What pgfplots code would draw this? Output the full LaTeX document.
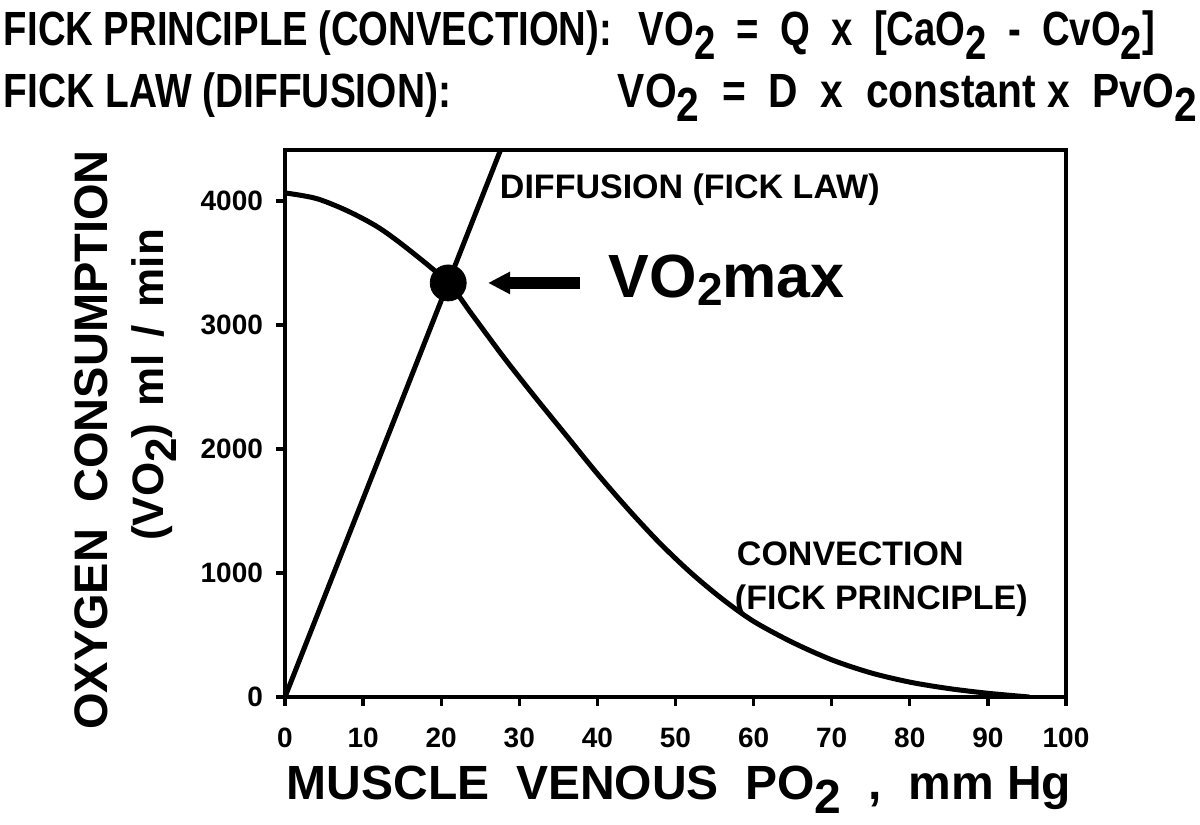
\documentclass[border=0pt]{standalone}
\usepackage{fontspec}
\setmainfont{Liberation Sans}
\usepackage{graphicx}
\usepackage{pgfplots}
\pgfplotsset{compat=1.18}
\usetikzlibrary{arrows.meta}

\newcommand\fs[1]{\fontsize{#1bp}{#1bp}\selectfont\bfseries}
\newcommand\sub[2][0.28em]{\raisebox{-#1}{#2}}
\newcommand\fit[2]{\resizebox{#1bp}{\height}{#2}}

\begin{document}
\begin{tikzpicture}
\useasboundingbox (-142.5bp,-64bp) rectangle (457.5bp,348.5bp);
\begin{axis}[
  scale only axis, width=390.5bp, height=273.5bp,
  xmin=0, xmax=100, ymin=0, ymax=4411,
  xtick={0,10,...,100}, ytick={0,1000,...,4000},
  axis line style={line width=1.6bp},
  tick style={line width=1.6bp, black},
  major tick length=4.5bp,
  tick align=outside, tick pos=left,
  /pgf/number format/assume math mode=true,
  /pgf/number format/1000 sep={},
  tick label style={font=\fs{14}},
  xticklabel style={yshift=-7.5bp},
  yticklabel style={xshift=-3bp},
]
% Diffusion (Fick law)
\addplot[line width=2.5bp] coordinates {(0,0) (27.6,4411)};
% Convection (Fick principle)
\addplot[line width=2.5bp, smooth] coordinates {
(0,4065) (4,4020) (8,3920) (12,3785) (16,3600) (20.9,3339) (24,3080)
(28,2740) (32,2420) (36,2110) (40,1800) (44,1510) (48,1240) (52,1000)
(56,790) (60,610) (65,440) (70,300) (75,195) (80,120) (85,68) (90,30) (95.3,0)};
% VO2max point
\addplot[only marks, mark=*, mark size=9bp, black] coordinates {(20.9,3339)};
\draw[line width=6bp, -{Triangle[length=11bp,width=10.5bp]}] (axis cs:37.8,3339) -- (axis cs:26.0,3339);
\end{axis}
\begin{scope}[x=0.5bp,y=-0.5bp,shift={(-142.5bp,348.5bp)}]
\tikzset{every node/.style={inner sep=0pt, outer sep=0pt}}
% header
\node[anchor=base west, font=\fs{24}] at (4,46) {\fit{304}{FICK PRINCIPLE (CONVECTION):}};
\node[anchor=base west, font=\fs{24}] at (639,46) {\fit{258}{VO\sub{2}\ \ =\ \ Q\ \ x\ \ [CaO\sub{2}\ \ -\ \ CvO\sub{2}]}};
\node[anchor=base west, font=\fs{24}] at (4,108) {\fit{223.5}{FICK LAW (DIFFUSION):}};
\node[anchor=base west, font=\fs{24}] at (618,108) {\fit{289.5}{VO\sub{2}\ \ =\ \ D\ \ x\ \ constant x\ \ PvO\sub{2}}};
% annotations
\node[anchor=base west, font=\fs{17}] at (500,199) {DIFFUSION (FICK LAW)};
\node[anchor=base west, font=\fs{30.5}] at (609,298) {VO\sub[0.12em]{\fontsize{23bp}{23bp}\selectfont 2}max};
\node[anchor=base west, font=\fs{17}] at (737,566) {CONVECTION};
\node[anchor=base west, font=\fs{17}] at (735,610) {(FICK PRINCIPLE)};
% axis titles
\node[anchor=base, rotate=90, font=\fs{23.5}] at (108,440) {OXYGEN\ \ CONSUMPTION};
\node[anchor=base, rotate=90, font=\fs{22}] at (164,385) {(VO\sub{2})\hspace{0.4em}ml\hspace{0.4em}/\hspace{0.4em}min};
\node[anchor=base, font=\fs{24}] at (679,800) {MUSCLE\ \ VENOUS\ \ PO\sub{2}\ \ ,\ \ mm Hg};
\end{scope}
\end{tikzpicture}
\end{document}
